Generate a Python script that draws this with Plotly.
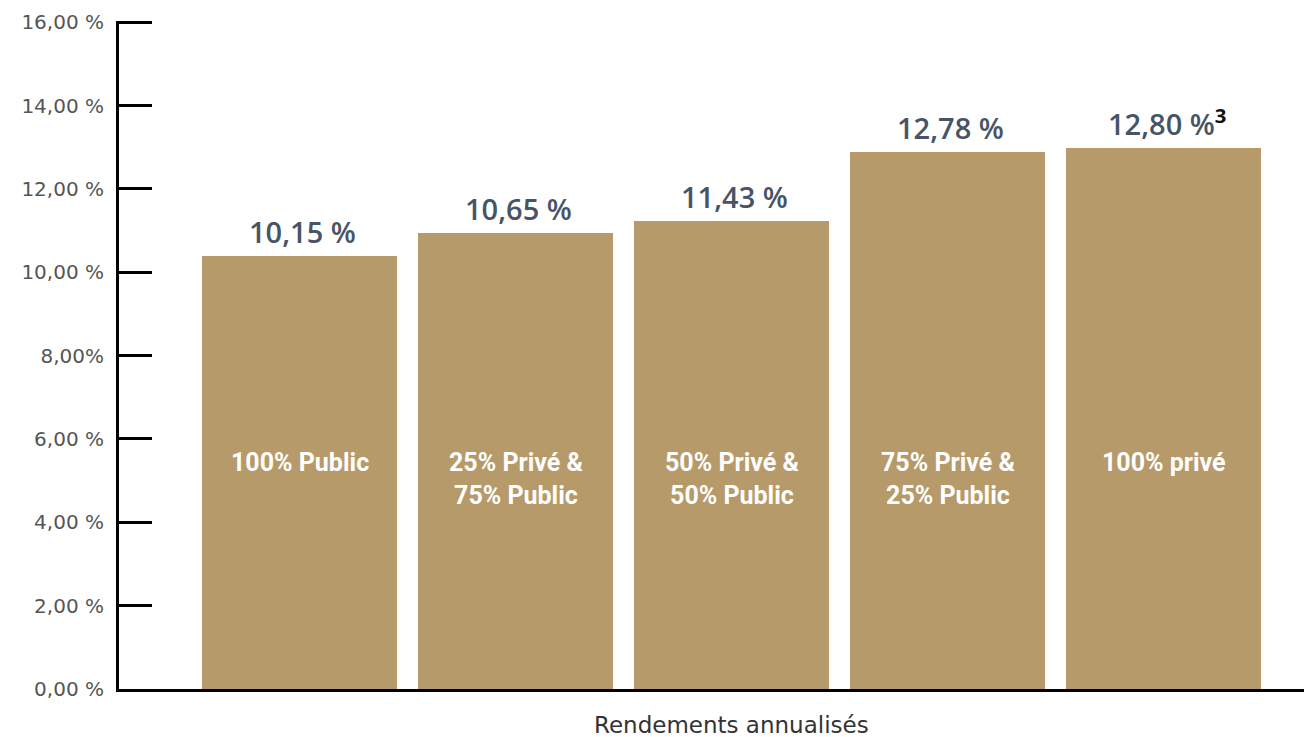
import plotly.graph_objects as go

categories = ["100% Public", "25% Privé &<br>75% Public", "50% Privé &<br>50% Public",
              "75% Privé &<br>25% Public", "100% privé"]
bar_heights = [10.40, 10.95, 11.23, 12.89, 12.99]
value_labels = ["10,15 %", "10,65 %", "11,43 %", "12,78 %",
                "12,80 %<sup><span style='color:#111111'><b>3</b></span></sup>"]
tick_values = [0, 2, 4, 6, 8, 10, 12, 14, 16]
tick_labels = ["0,00 %", "2,00 %", "4,00 %", "6,00 %", "8,00%", "10,00 %",
               "12,00 %", "14,00 %", "16,00 %"]
axis_title = "Rendements annualisés"

BAR_COLOR = "#B79A69"
LABEL_COLOR = "#475466"

fig = go.Figure()
fig.add_trace(go.Bar(
    x=categories, y=bar_heights, width=0.903,
    marker=dict(color=BAR_COLOR, line=dict(width=0)),
    hoverinfo="skip", showlegend=False,
))

annotations = []
for cat, h, lab in zip(categories, bar_heights, value_labels):
    annotations.append(dict(
        x=cat, y=h, xref="x", yref="y", text=lab, showarrow=False,
        yanchor="bottom", yshift=3, xshift=3,
        font=dict(family="Open Sans, Noto Sans, sans-serif", size=29,
                  color=LABEL_COLOR, weight=600),
    ))
    annotations.append(dict(
        x=cat, y=5.83, xref="x", yref="y", text="<b>" + cat + "</b>", showarrow=False,
        yanchor="top", align="center",
        font=dict(family="Roboto, Liberation Sans Narrow, sans-serif",
                  size=25, color="white"),
    ))
annotations.append(dict(
    x=categories[2], y=0, xref="x", yref="paper", text=axis_title, showarrow=False,
    yanchor="middle", yshift=-36,
    font=dict(family="DejaVu Sans, sans-serif", size=23, color="#333333"),
))

fig.update_layout(
    width=1304, height=729,
    margin=dict(l=111, r=0, t=13, b=48),
    paper_bgcolor="white", plot_bgcolor="white",
    bargap=0,
    annotations=annotations,
    xaxis=dict(
        type="category", range=[-0.8356, 4.687],
        showline=True, linewidth=3, linecolor="black",
        ticks="", showticklabels=False, showgrid=False, zeroline=False,
    ),
    yaxis=dict(
        range=[0, 16.03], tickvals=tick_values, ticktext=tick_labels,
        showline=True, linewidth=3, linecolor="black",
        ticks="inside", ticklen=33, tickwidth=3, tickcolor="black",
        ticklabelstandoff=8,
        tickfont=dict(family="DejaVu Sans, sans-serif", size=20, color="#555555"),
        showgrid=False, zeroline=False,
    ),
)

fig.write_html("out.html")
